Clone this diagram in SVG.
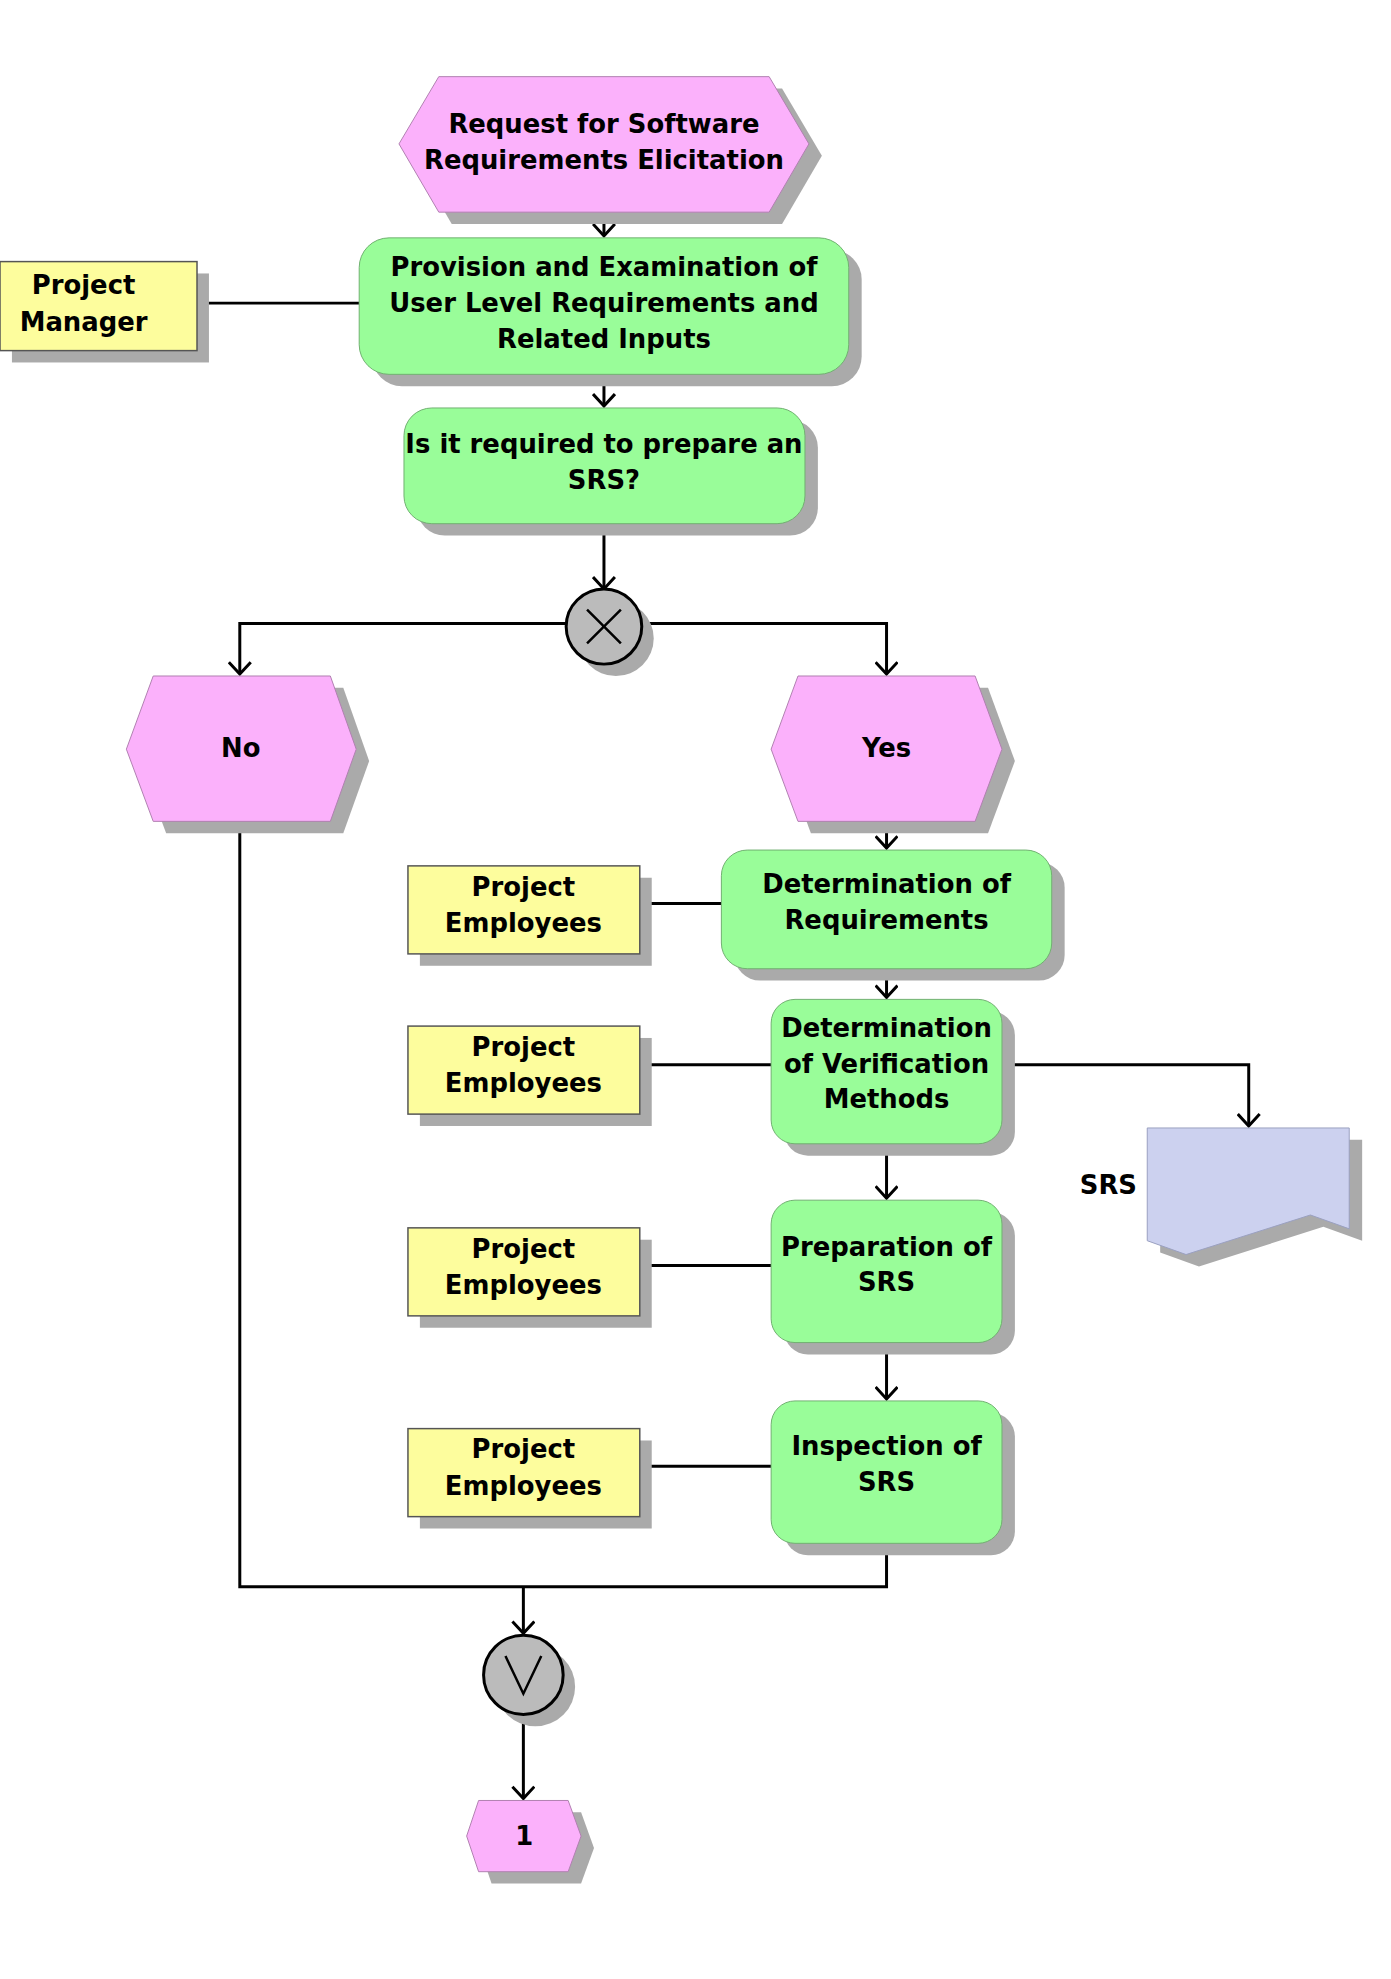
<svg xmlns="http://www.w3.org/2000/svg" width="1391" height="1979" viewBox="0 0 1391 1979">
<defs>
<style>
.ev{fill:#fbb1fb;stroke:#b080b0;stroke-width:1}
.fn{fill:#99fd99;stroke:#70b070;stroke-width:1}
.org{fill:#fdfd9d;stroke:#555;stroke-width:1.5}
.sh{fill:#aaaaaa}
.t{font-family:"DejaVu Sans",sans-serif;font-weight:bold;font-size:26px;fill:#000;text-anchor:middle}
.c{fill:none;stroke:#000;stroke-width:3}
</style>
<marker id="a" markerWidth="16" markerHeight="24" refX="14" refY="12" orient="auto" markerUnits="userSpaceOnUse" viewBox="0 0 16 24"><path d="M2,1 L14,12 L2,23" fill="none" stroke="#000" stroke-width="3"/></marker>
</defs>
<rect width="1391" height="1979" fill="#fff"/>
<g transform="translate(0,0.5) scale(0.995,0.989)">
<g id="connectors">
<line class="c" x1="607" y1="214" x2="607" y2="238" marker-end="url(#a)"/>
<line class="c" x1="198" y1="306" x2="361" y2="306"/>
<line class="c" x1="607" y1="378" x2="607" y2="410" marker-end="url(#a)"/>
<line class="c" x1="607" y1="529" x2="607" y2="595" marker-end="url(#a)"/>
<polyline class="c" points="569,630 241,630 241,681" marker-end="url(#a)"/>
<polyline class="c" points="645,630 891,630 891,681" marker-end="url(#a)"/>
<line class="c" x1="891" y1="830" x2="891" y2="857" marker-end="url(#a)"/>
<line class="c" x1="643" y1="913" x2="725" y2="913"/>
<line class="c" x1="891" y1="979" x2="891" y2="1008" marker-end="url(#a)"/>
<line class="c" x1="643" y1="1076" x2="775" y2="1076"/>
<polyline class="c" points="1007,1076 1255,1076 1255,1138" marker-end="url(#a)"/>
<line class="c" x1="891" y1="1156" x2="891" y2="1211" marker-end="url(#a)"/>
<line class="c" x1="643" y1="1279" x2="775" y2="1279"/>
<line class="c" x1="891" y1="1357" x2="891" y2="1414" marker-end="url(#a)"/>
<line class="c" x1="643" y1="1482" x2="775" y2="1482"/>
<polyline class="c" points="241,830 241,1604 891,1604 891,1560"/>
<line class="c" x1="526" y1="1604" x2="526" y2="1651" marker-end="url(#a)"/>
<line class="c" x1="526" y1="1733" x2="526" y2="1818" marker-end="url(#a)"/>
</g>
<g id="n1"><polygon class="sh" points="401,145 441,77 773,77 813,145 773,214 441,214" transform="translate(13,12)"/><polygon class="ev" points="401,145 441,77 773,77 813,145 773,214 441,214"/><text class="t" x="607" y="134">Request for Software</text><text class="t" x="607" y="170">Requirements Elicitation</text></g>
<g id="pm"><rect class="sh" x="12" y="276" width="198" height="90"/><rect class="org" x="0" y="264" width="198" height="90"/><text class="t" x="84" y="297">Project</text><text class="t" x="84" y="334">Manager</text></g>
<g id="n2"><rect class="sh" x="374" y="252" width="492" height="138" rx="30"/><rect class="fn" x="361" y="240" width="492" height="138" rx="30"/><text class="t" x="607" y="279">Provision and Examination of</text><text class="t" x="607" y="315">User Level Requirements and</text><text class="t" x="607" y="351">Related Inputs</text></g>
<g id="n3"><rect class="sh" x="419" y="424" width="403" height="117" rx="28"/><rect class="fn" x="406" y="412" width="403" height="117" rx="28"/><text class="t" x="607" y="458">Is it required to prepare an</text><text class="t" x="607" y="494">SRS?</text></g>
<g id="xor"><circle class="sh" cx="619" cy="645" r="38"/><circle cx="607" cy="633" r="38" fill="#bbb" stroke="#000" stroke-width="3"/><path d="M590,616 L624,650 M624,616 L590,650" stroke="#000" stroke-width="2.5"/></g>
<g id="no"><polygon class="sh" points="127,757 154,683 332,683 358,757 332,830 154,830" transform="translate(13,12)"/><polygon class="ev" points="127,757 154,683 332,683 358,757 332,830 154,830"/><text class="t" x="242" y="765">No</text></g>
<g id="yes"><polygon class="sh" points="775,757 802,683 980,683 1007,757 980,830 802,830" transform="translate(13,12)"/><polygon class="ev" points="775,757 802,683 980,683 1007,757 980,830 802,830"/><text class="t" x="891" y="765">Yes</text></g>
<g id="n4"><rect class="sh" x="738" y="871" width="332" height="120" rx="26"/><rect class="fn" x="725" y="859" width="332" height="120" rx="26"/><text class="t" x="891" y="902">Determination of</text><text class="t" x="891" y="939">Requirements</text></g>
<g id="n5"><rect class="sh" x="788" y="1022" width="232" height="146" rx="24"/><rect class="fn" x="775" y="1010" width="232" height="146" rx="24"/><text class="t" x="891" y="1048">Determination</text><text class="t" x="891" y="1084">of Verification</text><text class="t" x="891" y="1120">Methods</text></g>
<g id="n6"><rect class="sh" x="788" y="1225" width="232" height="144" rx="24"/><rect class="fn" x="775" y="1213" width="232" height="144" rx="24"/><text class="t" x="891" y="1269">Preparation of</text><text class="t" x="891" y="1305">SRS</text></g>
<g id="n7"><rect class="sh" x="788" y="1428" width="232" height="144" rx="24"/><rect class="fn" x="775" y="1416" width="232" height="144" rx="24"/><text class="t" x="891" y="1471">Inspection of</text><text class="t" x="891" y="1507">SRS</text></g>
<g id="pe1"><rect class="sh" x="422" y="887" width="233" height="89"/><rect class="org" x="410" y="875" width="233" height="89"/><text class="t" x="526" y="905">Project</text><text class="t" x="526" y="942">Employees</text></g>
<g id="pe2"><rect class="sh" x="422" y="1049" width="233" height="89"/><rect class="org" x="410" y="1037" width="233" height="89"/><text class="t" x="526" y="1067">Project</text><text class="t" x="526" y="1104">Employees</text></g>
<g id="pe3"><rect class="sh" x="422" y="1253" width="233" height="89"/><rect class="org" x="410" y="1241" width="233" height="89"/><text class="t" x="526" y="1271">Project</text><text class="t" x="526" y="1308">Employees</text></g>
<g id="pe4"><rect class="sh" x="422" y="1456" width="233" height="89"/><rect class="org" x="410" y="1444" width="233" height="89"/><text class="t" x="526" y="1474">Project</text><text class="t" x="526" y="1511">Employees</text></g>
<g id="srs"><path class="sh" d="M1166,1152 L1369,1152 L1369,1254 L1330,1240 L1205,1280 L1166,1266 Z"/><path d="M1153,1140 L1356,1140 L1356,1242 L1317,1228 L1192,1268 L1153,1254 Z" fill="#ccd1ef" stroke="#9aa0c0" stroke-width="1"/><text class="t" x="1114" y="1207">SRS</text></g>
<g id="or"><circle class="sh" cx="538" cy="1705" r="40"/><circle cx="526" cy="1693" r="40" fill="#bbb" stroke="#000" stroke-width="3"/><path d="M508,1674 L526,1712 L544,1674" fill="none" stroke="#000" stroke-width="2.5"/></g>
<g id="end"><polygon class="sh" points="469,1856 481,1820 571,1820 584,1856 571,1892 481,1892" transform="translate(13,12)"/><polygon class="ev" points="469,1856 481,1820 571,1820 584,1856 571,1892 481,1892"/><text class="t" x="527" y="1865">1</text></g>
</g>
</svg>
